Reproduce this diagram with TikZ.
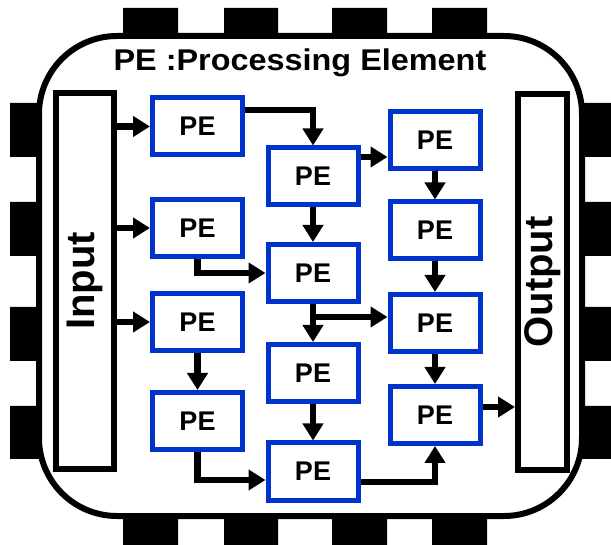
\documentclass[tikz,border=0pt]{standalone}
\usepackage{fontspec}
\setmainfont{Liberation Sans}
\usetikzlibrary{arrows.meta, positioning}
\definecolor{peblue}{HTML}{0033CC}

\begin{document}
\begin{tikzpicture}[x=1pt, y=-1pt,
  pe/.style={rectangle, draw=peblue, line width=5pt, fill=white, minimum width=90pt, minimum height=57pt, font=\fontsize{27}{27}\selectfont\bfseries},
  iobox/.style={rectangle, draw, line width=6pt, fill=white, rotate=90, minimum width=376pt, minimum height=#1, font=\fontsize{40}{40}\selectfont\bfseries},
  arr/.style={-{Triangle[length=17pt, width=20pt]}, line width=6.5pt},
]
  \useasboundingbox (0,0) rectangle (611,545);

  % Pins
  \fill (123,8) rectangle (178,38) (224,8) rectangle (278,38) (332,8) rectangle (387,38) (432,8) rectangle (487,38);
  \fill (123,514) rectangle (178,545) (224,514) rectangle (278,545) (332,514) rectangle (387,545) (432,514) rectangle (487,545);
  \fill (10,103) rectangle (40,157) (10,202) rectangle (40,256) (10,307) rectangle (40,361) (10,406) rectangle (40,459);
  \fill (580,103) rectangle (611,157) (580,202) rectangle (611,256) (580,307) rectangle (611,361) (580,406) rectangle (611,459);

  % Chip
  \draw[line width=6pt, fill=white, rounded corners=78pt] (39,36) rectangle (582,516);
  \node[font=\fontsize{30}{30}\selectfont\bfseries, xscale=1.08] (title) at (300,63) {PE :Processing Element};

  \node[iobox=58pt] (in) at (85,281) {Input};
  \node[iobox=49pt] (out) at (542.5,282) {Output};

  \node[pe] (c1r1) at (197.5,126.5) {PE};
  \node[pe] (c1r2) at (197.5,228) {PE};
  \node[pe] (c1r3) at (197.5,322) {PE};
  \node[pe] (c1r4) at (197.5,421) {PE};

  \node[pe] (c2r1) at (313,176.5) {PE};
  \node[pe] (c2r2) at (313,273) {PE};
  \node[pe] (c2r3) at (313,373) {PE};
  \node[pe] (c2r4) at (313,471.5) {PE};

  \node[pe] (c3r1) at (435,140.5) {PE};
  \node[pe] (c3r2) at (435,230.5) {PE};
  \node[pe] (c3r3) at (435,323) {PE};
  \node[pe] (c3r4) at (435,415) {PE};

  \coordinate (br) at ([yshift=6pt]c3r3.west);
  \coordinate (op) at ([yshift=8pt]c3r4.east);

  \draw[arr] (in.south |- c1r1) -- (c1r1.west);
  \draw[arr] (in.south |- c1r2) -- (c1r2.west);
  \draw[arr] (in.south |- c1r3) -- (c1r3.west);

  \draw[arr] ([yshift=16.5pt]c1r1.east) -| (c2r1.north);
  \draw[arr] (c1r2.south) |- (c2r2.west);
  \draw[arr] (c1r3.south) -- (c1r4.north);
  \draw[arr] (c1r4.south) |- ([yshift=-8.5pt]c2r4.west);

  \draw[arr] ([yshift=19.5pt]c2r1.east) -- ([yshift=-16.5pt]c3r1.west);
  \draw[arr] (c2r1.south) -- (c2r2.north);
  \draw[arr] (c2r2.south) -- (c2r3.north);
  \draw[arr] (br -| c2r2.south) -- (br);
  \draw[arr] (c2r3.south) -- (c2r4.north);
  \draw[arr] ([yshift=-10.5pt]c2r4.east) -| (c3r4.south);

  \draw[arr] (c3r1.south) -- (c3r2.north);
  \draw[arr] (c3r2.south) -- (c3r3.north);
  \draw[arr] (c3r3.south) -- (c3r4.north);
  \draw[arr] (op) -- (op -| out.north);
\end{tikzpicture}
\end{document}
